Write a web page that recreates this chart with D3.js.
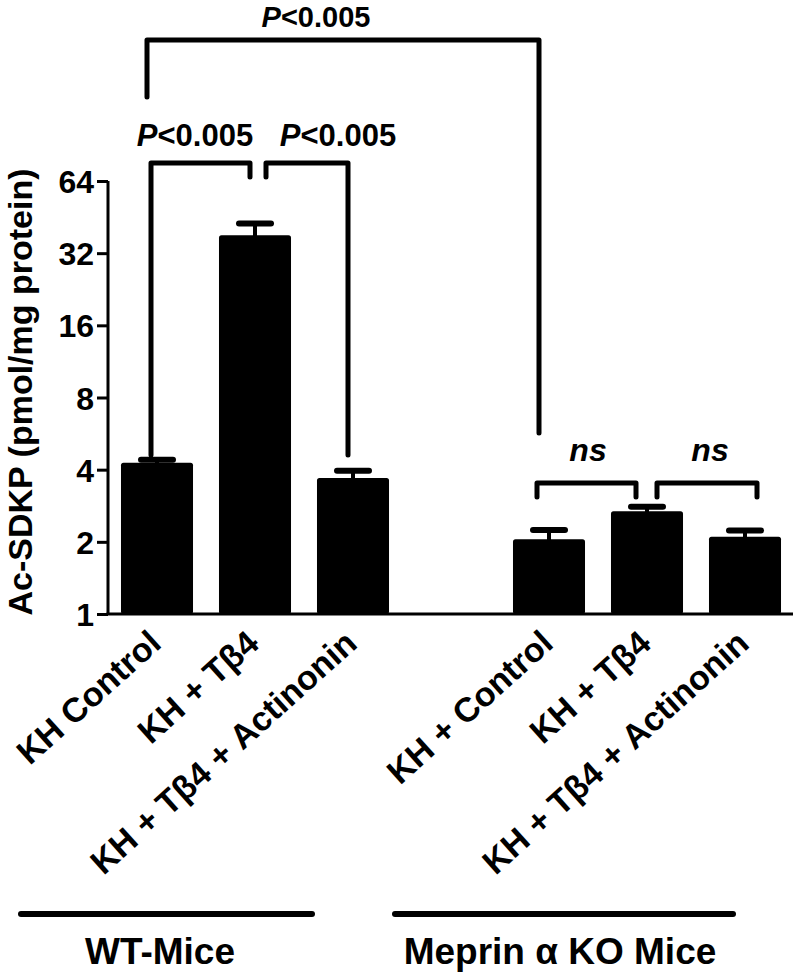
<!DOCTYPE html>
<html>
<head>
<meta charset="utf-8">
<script src="https://cdn.jsdelivr.net/npm/d3@7"></script>
<style>
  html, body { margin: 0; padding: 0; background: #fff; }
  svg { display: block; }
  text { font-family: "Liberation Sans", Arial, sans-serif; font-weight: bold; fill: #000; }
</style>
</head>
<body>
<svg id="chart" width="800" height="972"></svg>
<script>
// ---- data ----
const categories = ["KH Control", "KH + Tβ4", "KH + Tβ4 + Actinonin", "KH + Control", "KH + Tβ4", "KH + Tβ4 + Actinonin"];
const categoryGroup = [0, 0, 0, 1, 1, 1];
const groups = ["WT-Mice", "Meprin α KO Mice"];
const means = [4.27, 38.0, 3.69, 2.05, 2.68, 2.10];
const sems = [0.13, 4.5, 0.27, 0.19, 0.12, 0.13];
const yTicks = [1, 2, 4, 8, 16, 32, 64];
const yLabel = "Ac-SDKP (pmol/mg protein)";
// comparisons: [from index, to index, label]
const comparisons = [
  [0, 1, "P<0.005"],
  [1, 2, "P<0.005"],
  [0, 3, "P<0.005"],
  [3, 4, "ns"],
  [4, 5, "ns"]
];

// ---- layout ----
const svg = d3.select("#chart");
const axisX = 108, baseY = 614, topY = 181;
// slot positions: 3 bars, one empty gap slot, 3 bars
const slots = categories.map((c, i) => i + categoryGroup[i]);
const x = d3.scaleBand().domain(d3.range(7)).range([axisX, axisX + 7 * 98]).padding(0);
const y = d3.scaleLog().base(2).domain([1, 64]).range([baseY, topY]);
const barW = x.bandwidth() * 0.735;
const cx = i => x(slots[i]) + x.bandwidth() / 2;

// bars
svg.append("g").selectAll("rect").data(means).join("rect")
  .attr("x", (d, i) => cx(i) - barW / 2)
  .attr("y", d => y(d))
  .attr("width", barW)
  .attr("height", d => baseY - y(d))
  .attr("rx", 2.5)
  .attr("fill", "#000");

// error bars (upper)
const eg = svg.append("g").attr("stroke", "#000").attr("stroke-linecap", "round");
means.forEach((m, i) => {
  const top = y(m + sems[i]);
  eg.append("line").attr("x1", cx(i)).attr("x2", cx(i)).attr("y1", y(m) + 2).attr("y2", top).attr("stroke-width", 4);
  eg.append("line").attr("x1", cx(i) - 16).attr("x2", cx(i) + 16).attr("y1", top).attr("y2", top).attr("stroke-width", 6);
});

// y axis
const yAxis = d3.axisLeft(y).tickValues(yTicks).tickFormat(d3.format("d")).tickSize(11).tickPadding(3);
const ya = svg.append("g").attr("transform", `translate(${axisX},0)`).call(yAxis);
ya.select(".domain").attr("d", `M0,${topY}V${baseY}`).attr("stroke", "#000").attr("stroke-width", 3);
ya.selectAll(".tick line").attr("stroke", "#000").attr("stroke-width", 3);
ya.selectAll(".tick text").style("font-size", "32px").style("font-family", "'Liberation Sans', Arial, sans-serif")
  .style("font-weight", "bold").attr("fill", "#000").attr("dy", "0.36em");

// x axis baseline
const xAxis = d3.axisBottom(x).tickValues([]).tickSize(0);
const xa = svg.append("g").attr("transform", `translate(0,${baseY})`).call(xAxis);
xa.select(".domain").attr("d", `M${axisX - 1.5},0H793`).attr("stroke", "#000").attr("stroke-width", 3);

// y label
svg.append("text")
  .attr("transform", `translate(32,392) rotate(-90)`)
  .attr("text-anchor", "middle")
  .style("font-size", "34px")
  .text(yLabel);

// category labels
svg.append("g").selectAll("text").data(categories).join("text")
  .attr("transform", (d, i) => `translate(${cx(i) + 6},646) rotate(-42)`)
  .attr("text-anchor", "end")
  .style("font-size", "34px")
  .text(d => d);

// group lines and labels
groups.forEach((g, gi) => {
  const ext = gi === 0 ? [21, 312] : [395, 733];
  const lx = gi === 0 ? 160 : 560;
  svg.append("line").attr("x1", ext[0]).attr("x2", ext[1]).attr("y1", 914).attr("y2", 914)
    .attr("stroke", "#000").attr("stroke-width", 6).attr("stroke-linecap", "round");
  svg.append("text").attr("x", lx).attr("y", 964).attr("text-anchor", "middle")
    .style("font-size", "37px").text(g);
});

// significance brackets
const bg = svg.append("g").attr("fill", "none").attr("stroke", "#000").attr("stroke-width", 5)
  .attr("stroke-linecap", "round").attr("stroke-linejoin", "round");
function label(xc, yb, txt, fs) {
  const t = svg.append("text").attr("x", xc).attr("y", yb).attr("text-anchor", "middle").style("font-size", fs + "px");
  if (txt === "ns") {
    t.style("font-style", "italic").text("ns");
  } else {
    t.append("tspan").style("font-style", "italic").text("P");
    t.append("tspan").text(txt.slice(1));
  }
}
const bracketSpec = [
  { dx1: -6, dx2: -5, top: 163, l1: 455, l2: 177, ty: 146, lx: 195, fs: 31 },
  { dx1: 11, dx2: -5, top: 163, l1: 177, l2: 455, ty: 146, lx: 338, fs: 31 },
  { dx1: -10, dx2: -10, top: 40, l1: 97, l2: 433, ty: 27, lx: 316, fs: 29 },
  { dx1: -12, dx2: -11, top: 483, l1: 497, l2: 497, ty: 461, lx: 588, fs: 32 },
  { dx1: 10, dx2: 12, top: 483, l1: 497, l2: 497, ty: 461, lx: 710, fs: 32 }
];
comparisons.forEach((c, k) => {
  const s = bracketSpec[k];
  const x1 = cx(c[0]) + s.dx1, x2 = cx(c[1]) + s.dx2;
  bg.append("path").attr("d", `M${x1},${s.l1}V${s.top}H${x2}V${s.l2}`);
  label(s.lx, s.ty, c[2], s.fs);
});
</script>
</body>
</html>
